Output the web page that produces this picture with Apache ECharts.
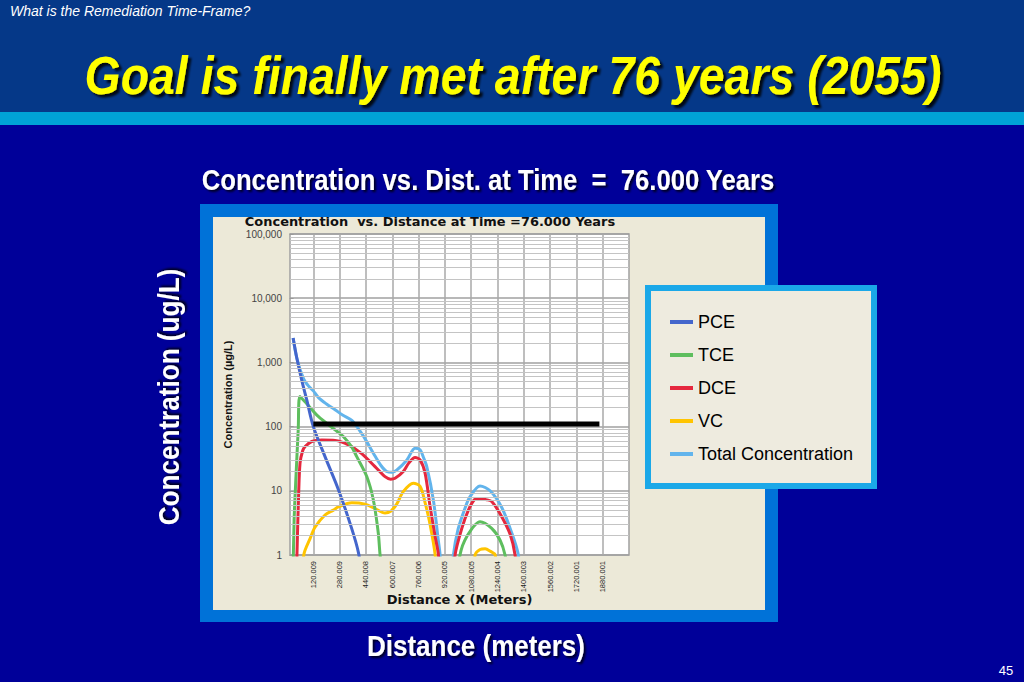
<!DOCTYPE html>
<html><head><meta charset="utf-8">
<script src="https://cdn.jsdelivr.net/npm/echarts@6/dist/echarts.min.js"></script>
<style>html,body{margin:0;padding:0;background:#000099;overflow:hidden}#c{width:1024px;height:682px}</style>
</head><body><div id="c"></div>
<script>
// ---- data (distance in m, concentration in ug/L) ----
const xTickValues = [120.009, 280.009, 440.008, 600.007, 760.006, 920.005, 1080.005, 1240.004, 1400.003, 1560.002, 1720.001, 1880.001];
const yTickValues = [1, 10, 100, 1000, 10000, 100000];

const pceDist = [-3, 20, 50, 80, 120, 191, 272, 353, 394, 420];
const pceVal  = [2400, 1150, 520, 260, 100, 34, 10.5, 2.6, 1.1, 0.4];

const tceDist = [-5, 3, 15, 28, 38, 80, 150, 252, 302, 354, 384, 445, 485, 515, 526, 560, 980, 1012, 1053, 1134, 1205, 1256, 1286, 1320];
const tceVal  = [0.3, 3.5, 18, 89, 295, 227, 144, 89, 70, 48, 34, 16.7, 7.2, 2.2, 1, 0.2, 0.2, 1, 1.93, 3.3, 2.6, 1.7, 1, 0.3];

const dceDist = [15, 22, 30, 39, 55, 70, 110, 171, 252, 333, 414, 495, 556, 590, 617, 667, 700, 739, 770, 800, 830, 861, 881, 895, 960, 982, 1023, 1063, 1100, 1134, 1170, 1205, 1260, 1317, 1347, 1365];
const dceVal  = [0.3, 1.5, 8, 27, 42, 49, 58.6, 62, 61, 52, 38, 23.8, 16.6, 15.2, 15.7, 20, 27, 33, 30, 18.7, 5.7, 1.93, 1, 0.2, 0.2, 1, 2.6, 5, 7.3, 7.6, 7.3, 6.8, 4.2, 2.1, 1, 0.3];

const vcDist = [55, 62, 100, 130, 191, 242, 272, 354, 434, 495, 556, 590, 627, 667, 728, 769, 800, 830, 861, 875, 1090, 1104, 1134, 1165, 1195, 1226, 1240];
const vcVal  = [0.3, 1, 1.8, 2.7, 4.2, 5.0, 5.6, 6.5, 6.2, 5.3, 4.5, 4.8, 6.2, 9.7, 13.1, 11.8, 6.5, 3, 1, 0.3, 0.3, 1, 1.22, 1.25, 1.15, 1, 0.3];

const totDist = [-3, 20, 60, 90, 120, 150, 200, 252, 300, 354, 404, 434, 485, 530, 566, 600, 627, 688, 739, 769, 790, 810, 850, 880, 891, 905, 950, 972, 1000, 1043, 1073, 1134, 1195, 1266, 1327, 1367, 1385];
const totVal  = [2400, 1150, 560, 430, 360, 285, 225, 183, 150, 125, 85, 65, 38.6, 25, 20, 19.5, 21, 30, 46, 43.5, 33, 23.8, 7.2, 1.7, 1, 0.2, 0.2, 1, 2.5, 5.4, 8.1, 11.9, 10, 5.5, 2.2, 1, 0.3];

const goalDist = [120, 1860];
const goalVal  = [110, 110];

const seriesNames = ['PCE', 'TCE', 'DCE', 'VC', 'Total Concentration'];
const minorGrid = [];
for (let e = 0; e < 5; e++) for (let k = 2; k <= 9; k++) minorGrid.push(k * Math.pow(10, e));

// ---- helpers ----
const zip = (xs, ys) => xs.map((x, i) => [x, ys[i]]);
const ARIAL = "'Liberation Sans', Arial, sans-serif";
const VERD = "'DejaVu Sans', Verdana, sans-serif";
const SHADOW = { textShadowColor: 'rgba(0,0,0,0.8)', textShadowOffsetX: 2, textShadowOffsetY: 2, textShadowBlur: 2 };

const chart = echarts.init(document.getElementById('c'), null, { renderer: 'svg' });

function lineSeries(name, data, color, z) {
  return { name, type: 'line', data, smooth: 0.3, showSymbol: false, symbol: 'none', z: z,
    lineStyle: { color, width: 3 }, itemStyle: { color }, clip: true };
}

const option = {
  animation: false,
  backgroundColor: '#000099',
  graphic: [
    { type: 'rect', shape: { x: 0, y: 0, width: 1024, height: 112 }, style: { fill: '#053888' }, z: -10 },
    { type: 'rect', shape: { x: 0, y: 112, width: 1024, height: 13 }, style: { fill: '#00A2D6' }, z: -10 },
    { type: 'rect', shape: { x: 200, y: 204, width: 578, height: 418 }, style: { fill: '#0072D8' }, z: -10 },
    { type: 'rect', shape: { x: 213, y: 217, width: 552, height: 393 }, style: { fill: '#ECE9D8' }, z: -9 },
    { type: 'rect', shape: { x: 648, y: 288, width: 226, height: 198 }, style: { fill: '#EEEBDF', stroke: '#1AA8E8', lineWidth: 6 }, z: 5 },
    { type: 'text', left: 10, top: 4, z: 10, style: { text: 'What is the Remediation Time-Frame?', fill: '#FFFFFF', fontSize: 14, fontStyle: 'italic', fontFamily: ARIAL } },
    { type: 'text', x: 513, y: 75, scaleX: 0.86, z: 10, style: Object.assign({ text: 'Goal is finally met after 76 years (2055)', fill: '#FFFF00', fontSize: 54, fontWeight: 'bold', fontStyle: 'italic', fontFamily: ARIAL, textAlign: 'center', textVerticalAlign: 'middle' }, SHADOW, { textShadowColor: 'rgba(0,0,0,0.85)', textShadowOffsetX: 3, textShadowOffsetY: 3 }) },
    { type: 'text', x: 488, y: 180, scaleX: 0.855, z: 10, style: Object.assign({ text: 'Concentration vs. Dist. at Time  =  76.000 Years', fill: '#FFFFFF', fontSize: 30, fontWeight: 'bold', fontFamily: ARIAL, textAlign: 'center', textVerticalAlign: 'middle' }, SHADOW) },
    { type: 'text', x: 169, y: 397, rotation: Math.PI / 2, scaleX: 0.87, z: 10, style: Object.assign({ text: 'Concentration (ug/L)', fill: '#FFFFFF', fontSize: 30, fontWeight: 'bold', fontFamily: ARIAL, textAlign: 'center', textVerticalAlign: 'middle' }, SHADOW) },
    { type: 'text', x: 476, y: 646, scaleX: 0.866, z: 10, style: Object.assign({ text: 'Distance (meters)', fill: '#FFFFFF', fontSize: 30, fontWeight: 'bold', fontFamily: ARIAL, textAlign: 'center', textVerticalAlign: 'middle' }, SHADOW) },
    { type: 'text', x: 1006, y: 670, z: 10, style: { text: '45', fill: '#FFFFFF', fontSize: 13, fontFamily: ARIAL, textAlign: 'center', textVerticalAlign: 'middle' } },
    { type: 'text', x: 430, y: 222, scaleX: 1.08, z: 10, style: { text: 'Concentration  vs. Distance at Time =76.000 Years', fill: '#111111', fontSize: 12, fontWeight: 'bold', fontFamily: VERD, textAlign: 'center', textVerticalAlign: 'middle' } }
  ],
  legend: {
    data: seriesNames, orient: 'vertical', left: 670, top: 312, padding: 0, itemWidth: 23, itemHeight: 4, itemGap: 13,
    icon: 'rect', z: 10, selectedMode: false,
    textStyle: { fontSize: 18, fontFamily: ARIAL, color: '#000000', lineHeight: 20 }
  },
  grid: { left: 290, top: 234, width: 339, height: 321, show: true, backgroundColor: '#FFFFFF', borderColor: '#A0A0A0', borderWidth: 1.5 },
  xAxis: {
    type: 'value', min: -22, max: 2040,
    axisLine: { show: false },
    axisTick: { show: false, customValues: xTickValues },
    axisLabel: { customValues: xTickValues, rotate: 90, formatter: v => Number(v).toFixed(3), fontSize: 7.5, fontFamily: ARIAL, color: '#222222', margin: 6 },
    splitLine: { show: true, lineStyle: { color: '#A8A8A8', width: 1.5 } },
    name: 'Distance X (Meters)', nameLocation: 'middle', nameGap: 38, nameMoveOverlap: false,
    nameTextStyle: { fontSize: 13, fontWeight: 'bold', fontFamily: VERD, color: '#111111' }
  },
  yAxis: {
    type: 'log', logBase: 10, min: 1, max: 100000,
    axisLine: { show: false },
    axisTick: { show: true, length: 4, lineStyle: { color: '#999999' } },
    axisLabel: { formatter: v => Math.round(v).toLocaleString('en-US'), fontSize: 10, fontFamily: ARIAL, color: '#444444', margin: 8 },
    splitLine: { show: true, lineStyle: { color: '#A0A0A0', width: 1.5 } },
    name: 'Concentration (\u00b5g/L)', nameLocation: 'middle', nameGap: 57, nameRotate: 90, nameMoveOverlap: false,
    nameTextStyle: { fontSize: 11, fontWeight: 'bold', fontFamily: ARIAL, color: '#111111' }
  },
  series: [
    { name: 'grid-minor', type: 'line', data: [], silent: true, z: 1,
      markLine: { silent: true, symbol: ['none', 'none'], animation: false, label: { show: false },
        lineStyle: { color: '#C4C4C4', width: 1, type: 'solid' },
        data: minorGrid.map(v => ({ yAxis: v })) } },
    lineSeries('Total Concentration', zip(totDist, totVal), '#62B4EC', 3),
    lineSeries('VC', zip(vcDist, vcVal), '#FFC400', 3),
    lineSeries('DCE', zip(dceDist, dceVal), '#E5283E', 3),
    lineSeries('TCE', zip(tceDist, tceVal), '#5EBE5E', 3),
    lineSeries('PCE', zip(pceDist, pceVal), '#4466CC', 3),
    { name: 'Goal', type: 'line', data: zip(goalDist, goalVal), showSymbol: false, symbol: 'none', z: 4,
      lineStyle: { color: '#000000', width: 5 } }
  ]
};
chart.setOption(option);
</script></body></html>
